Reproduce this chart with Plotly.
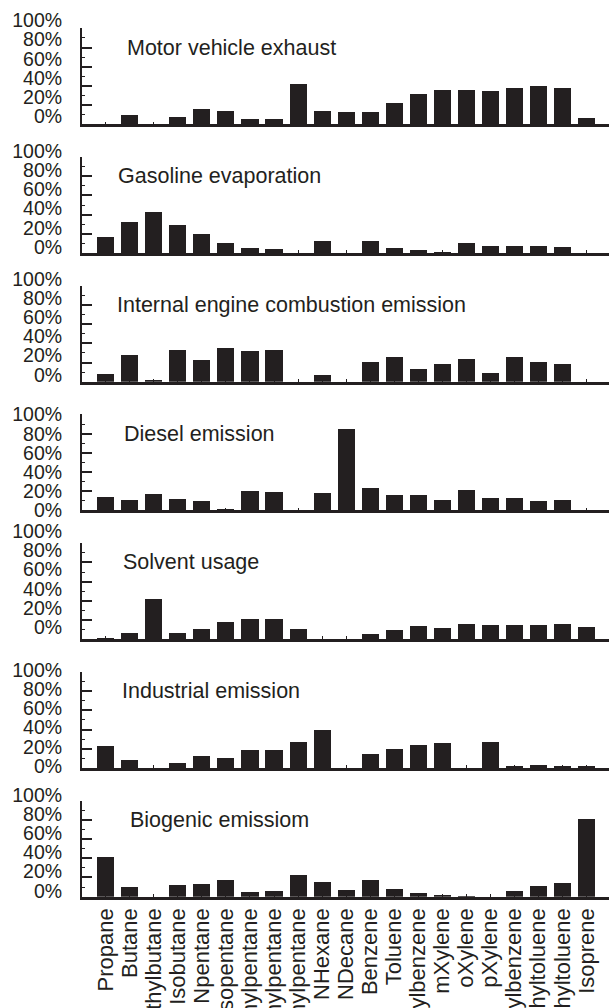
import plotly.graph_objects as go

categories = ["Propane", "Butane", "Dimethylbutane", "Isobutane", "Npentane", "Isopentane",
              "2-Methylpentane", "3-Methylpentane", "Trimethylpentane", "NHexane", "NDecane",
              "Benzene", "Toluene", "Ethylbenzene", "mXylene", "oXylene", "pXylene",
              "Trimethylbenzene", "mEthyltoluene", "pEthyltoluene", "Isoprene"]

titles = ["Motor vehicle exhaust", "Gasoline evaporation", "Internal engine combustion emission",
          "Diesel emission", "Solvent usage", "Industrial emission", "Biogenic emissiom"]

motor_vehicle = [0, 9.5, 0, 7, 16, 13.5, 5, 5, 41.5, 13.5, 12, 12.5, 22, 31.5, 35, 35.3, 34.3, 38, 39.5, 38, 6]
gasoline = [17, 32, 42.5, 29, 20, 10, 4.8, 3.7, 0, 12, 0, 12, 4.8, 2.7, 0.7, 10.5, 7.8, 7.8, 7, 6.5, 0]
internal_engine = [8.8, 28, 1.3, 33.3, 22.6, 35.7, 32.3, 33.3, 0, 7.7, 0, 20.5, 25.6, 13.5, 18.9, 23.9, 9, 25.6, 20.9, 18.9, 0]
diesel = [14, 10, 16.8, 11.9, 9.4, 0.7, 20, 18.9, 0, 17.5, 84, 22.7, 15.7, 16, 10.5, 21, 12.6, 12.6, 9.4, 10.5, 0]
solvent = [1, 6.7, 41.4, 6.3, 10.9, 17.9, 20.7, 20.7, 10.5, 0, 0, 5.6, 9.5, 13.7, 11.9, 15.4, 14.7, 14.7, 14.7, 15.4, 12.6]
industrial = [22.9, 8.8, 0, 5.6, 12.7, 10.2, 19, 19, 26.8, 40.1, 0, 14.4, 20, 24.3, 26.4, 0, 27.5, 1.4, 2.8, 1.4, 2.1]
biogenic = [41.9, 10.7, 0, 12.2, 14, 18.1, 5.6, 6.3, 22.6, 16, 7, 18.1, 8, 4.5, 2.4, 0.3, 0, 5.9, 11.3, 14.5, 81.6]

series = [motor_vehicle, gasoline, internal_engine, diesel, solvent, industrial, biogenic]

y_tickvals = [0, 20, 40, 60, 80, 100]
y_ticktext = ["0%", "20%", "40%", "60%", "80%", "100%"]

W, H = 609, 1008
INK = "#231f20"
FONT = "Liberation Sans, Arial, sans-serif"
x0px = 82
top0 = 28.3
pitch = 128.73
ph = 96
label_shift = [-8, -6, -7, 0, -12, -2, -6]
title_x = [125, 116, 115, 122, 121, 120, 128]

fig = go.Figure()
for i, vals in enumerate(series):
    ax = "" if i == 0 else str(i + 1)
    fig.add_trace(go.Bar(x=list(range(len(categories))), y=vals,
                         xaxis="x" + ax, yaxis="y" + ax,
                         marker=dict(color=INK, line=dict(width=0)),
                         width=0.71, showlegend=False))
    top = top0 + i * pitch
    bot = top + ph
    fig.layout["yaxis" + ax] = dict(
        domain=[1 - bot / H, 1 - top / H], range=[0, 100], anchor="x" + ax,
        tickmode="array", tickvals=y_tickvals, ticktext=y_ticktext,
        ticks="inside", ticklen=10, tickwidth=2, tickcolor=INK,
        minor=dict(ticks="inside", ticklen=3, tickwidth=1, dtick=10, tickcolor=INK),
        showline=True, linewidth=2, linecolor=INK,
        showgrid=False, zeroline=False, automargin=False,
        ticklabelshift=label_shift[i], ticklabelstandoff=14,
        tickfont=dict(family=FONT, size=19.5, color=INK))
    fig.layout["xaxis" + ax] = dict(
        domain=[x0px / W, 1], range=[-0.99, 20.94], anchor="y" + ax,
        tickmode="array", tickvals=list(range(len(categories))), ticktext=categories,
        showticklabels=(i == len(series) - 1), tickangle=-90,
        ticks="inside", ticklen=3, tickwidth=1, tickcolor=INK,
        showline=True, linewidth=2.5, linecolor=INK,
        showgrid=False, zeroline=False, automargin=False,
        ticklabelstandoff=0,
        tickfont=dict(family=FONT, size=22, color=INK))
    fig.add_annotation(text=titles[i], xref="paper", yref="y" + ax,
                       x=title_x[i] / W, y=80, xanchor="left", yanchor="middle",
                       showarrow=False, font=dict(family=FONT, size=21.5, color=INK))

fig.update_layout(width=W, height=H, margin=dict(l=0, r=0, t=0, b=0),
                  paper_bgcolor="white", plot_bgcolor="white",
                  bargap=0, font=dict(family=FONT, color=INK))

fig.write_html("out.html")
